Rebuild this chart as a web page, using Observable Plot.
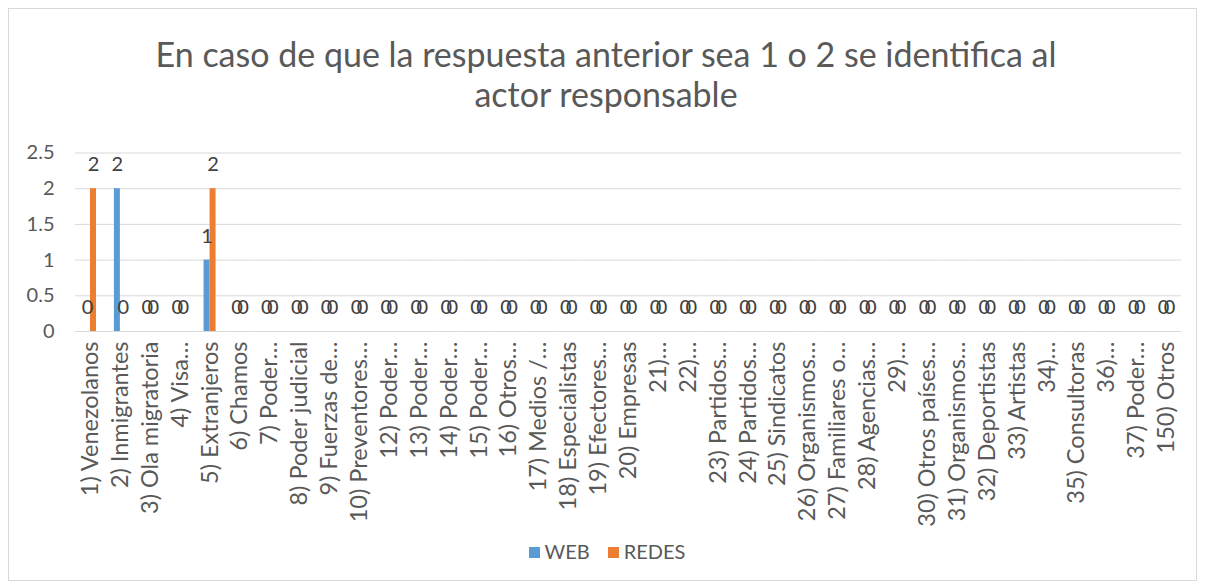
<!DOCTYPE html>
<html>
<head>
<meta charset="utf-8">
<script src="https://cdn.jsdelivr.net/npm/d3@7"></script>
<script src="https://cdn.jsdelivr.net/npm/@observablehq/plot@0.6"></script>
<style>
  html, body { margin: 0; padding: 0; background: #fff; }
  #wrap { position: relative; width: 1206px; height: 588px; overflow: hidden; font-family: Lato, "Liberation Sans", sans-serif; color: #595959; }
  #frame { position: absolute; left: 8px; top: 8px; width: 1189px; height: 573px; border: 1px solid #d9d9d9; box-sizing: border-box; }
  #title { position: absolute; left: 0; width: 1212px; top: 34px; text-align: center; font-size: 34px; line-height: 40px; }
  #chart { position: absolute; left: 0; top: 130px; }
  #legend { position: absolute; left: 0; width: 1214px; top: 540px; text-align: center; font-size: 20px; line-height: 22px; }
  .sw { display: inline-block; width: 11px; height: 11px; margin-right: 5px; vertical-align: 1px; }
  .item { display: inline-block; margin: 0 9px; }
</style>
</head>
<body>
<div id="wrap">
  <div id="frame"></div>
  <div id="title">En caso de que la respuesta anterior sea 1 o 2 se identifica al<br>actor responsable</div>
  <div id="chart"></div>
  <div id="legend"></div>
</div>
<script>
const categories = [
  "1) Venezolanos", "2) Inmigrantes", "3) Ola migratoria", "4) Visa…", "5) Extranjeros",
  "6) Chamos", "7) Poder…", "8) Poder judicial", "9) Fuerzas de…", "10) Preventores…",
  "12) Poder…", "13) Poder…", "14) Poder…", "15) Poder…", "16) Otros…",
  "17) Medios /…", "18) Especialistas", "19) Efectores…", "20) Empresas", "21)…",
  "22)…", "23) Partidos…", "24) Partidos…", "25) Sindicatos", "26) Organismos…",
  "27) Familiares o…", "28) Agencias…", "29)…", "30) Otros países…", "31) Organismos…",
  "32) Deportistas", "33) Artistas", "34)…", "35) Consultoras", "36)…",
  "37) Poder…", "150) Otros"
];
const web   = [0,2,0,0,1, 0,0,0,0,0, 0,0,0,0,0, 0,0,0,0,0, 0,0,0,0,0, 0,0,0,0,0, 0,0,0,0,0, 0,0];
const redes = [2,0,0,0,2, 0,0,0,0,0, 0,0,0,0,0, 0,0,0,0,0, 0,0,0,0,0, 0,0,0,0,0, 0,0,0,0,0, 0,0];
const seriesNames = ["WEB", "REDES"];
const seriesColors = ["#5B9BD5", "#ED7D31"];
const yTicks = [0, 0.5, 1, 1.5, 2, 2.5];
const title = "En caso de que la respuesta anterior sea 1 o 2 se identifica al actor responsable";

const data = categories.flatMap((c, i) => [
  {cat: c, serie: seriesNames[0], value: web[i]},
  {cat: c, serie: seriesNames[1], value: redes[i]}
]);

const chart = Plot.plot({
  width: 1206,
  height: 400,
  marginTop: 22.5,
  marginBottom: 199,
  marginLeft: 75,
  marginRight: 25,
  style: {fontFamily: "Lato, 'Liberation Sans', sans-serif", color: "#595959", background: "transparent", overflow: "visible"},
  fx: {domain: categories, padding: 0, label: null, axis: null},
  x: {domain: seriesNames, paddingInner: 0, paddingOuter: 1.4, axis: null},
  y: {domain: [0, 2.5], axis: null},
  color: {domain: seriesNames, range: seriesColors},
  marks: [
    Plot.gridY(yTicks, {stroke: "#d9d9d9", strokeOpacity: 1, strokeWidth: 1}),
    Plot.axisY(yTicks, {tickSize: 0, tickPadding: 21, tickFormat: d => String(d), fontSize: 20, fill: "#595959", label: null}),
    Plot.axisFx({anchor: "bottom", tickRotate: -90, tickSize: 0, tickPadding: 10, fontSize: 23.5, fill: "#595959", label: null}),
    Plot.barY(data, {fx: "cat", x: "serie", y: "value", fill: "serie"}),
    Plot.ruleY([0], {stroke: "#d9d9d9", strokeWidth: 1}),
    Plot.text(data, {fx: "cat", x: "serie", y: "value", text: d => String(d.value), dy: -24, fontSize: 20, fill: "#404040"})
  ]
});
document.getElementById("chart").appendChild(chart);

const legend = document.getElementById("legend");
seriesNames.forEach((s, i) => {
  const item = document.createElement("span");
  item.className = "item";
  const sw = document.createElement("span");
  sw.className = "sw";
  sw.style.background = seriesColors[i];
  item.appendChild(sw);
  item.appendChild(document.createTextNode(s));
  legend.appendChild(item);
});
</script>
</body>
</html>
